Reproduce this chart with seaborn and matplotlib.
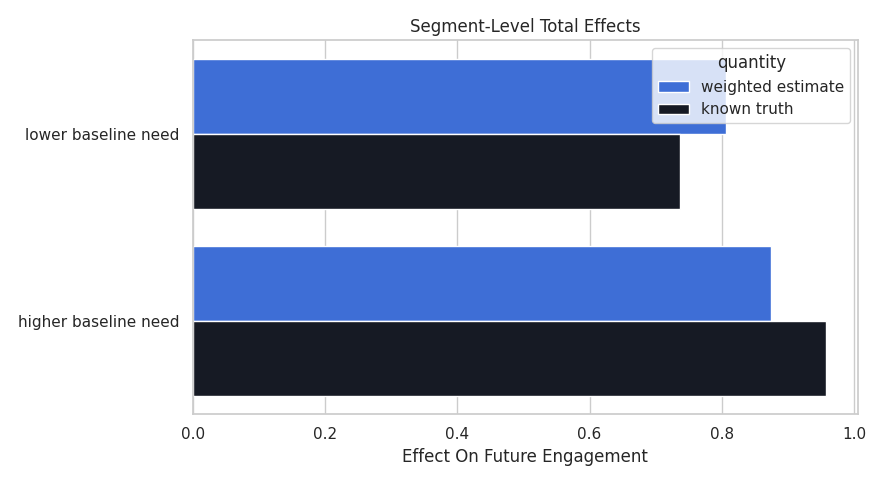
import pandas as pd
import matplotlib
matplotlib.use('Agg')
import matplotlib.pyplot as plt
import seaborn as sns

segments = ['lower baseline need', 'higher baseline need']
weighted_estimate = [0.807, 0.875]
known_truth = [0.737, 0.958]
quantities = ['weighted estimate', 'known truth']
colors = ['#3e6ed6', '#161a24']

df = pd.DataFrame({
    'segment': segments * 2,
    'effect': weighted_estimate + known_truth,
    'quantity': [quantities[0]] * 2 + [quantities[1]] * 2,
})

sns.set_theme(style='whitegrid')
fig, ax = plt.subplots(figsize=(8.84, 4.84), dpi=100)
sns.barplot(data=df, y='segment', x='effect', hue='quantity', palette=colors,
            saturation=1, ax=ax, orient='h')
ax.set_title('Segment-Level Total Effects')
ax.set_xlabel('Effect On Future Engagement')
ax.set_ylabel('')
ax.legend(title='quantity', loc='upper right')
fig.tight_layout()
fig.savefig('out.png', dpi=100)
